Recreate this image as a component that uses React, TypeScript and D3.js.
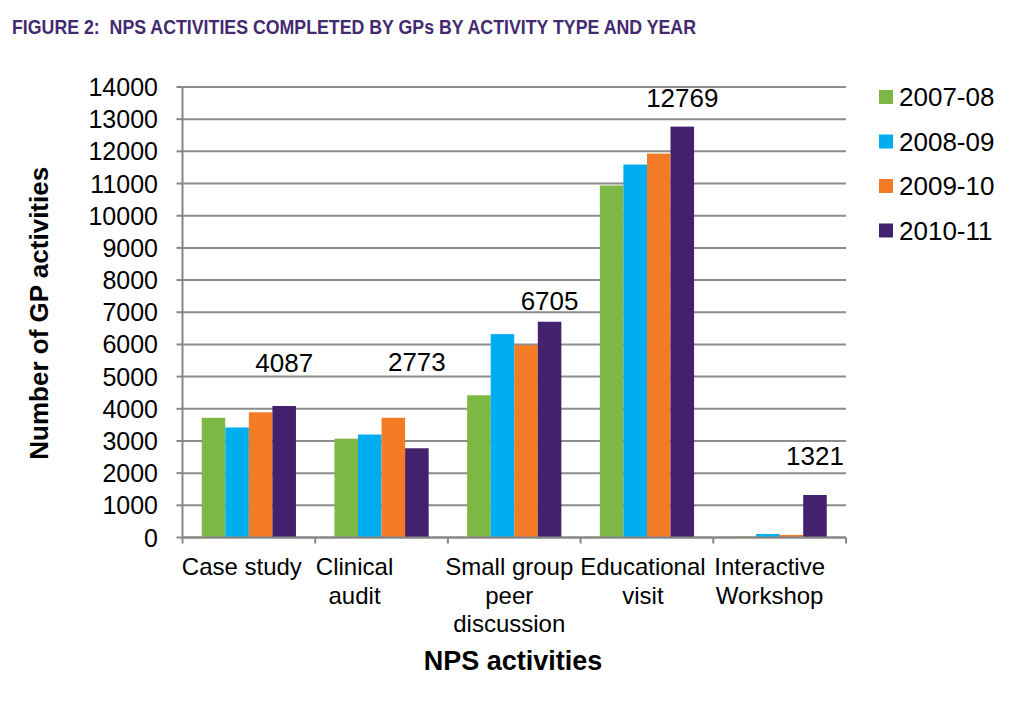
import React from "react";
import * as d3 from "d3";

const categoryLines: string[][] = [
  ["Case study"],
  ["Clinical", "audit"],
  ["Small group", "peer", "discussion"],
  ["Educational", "visit"],
  ["Interactive", "Workshop"],
];
const categories = categoryLines.map((l) => l.join(" "));
const years = ["2007-08", "2008-09", "2009-10", "2010-11"];
const v2007 = [3720, 3070, 4420, 10940, 30];
const v2008 = [3420, 3200, 6320, 11590, 110];
const v2009 = [3890, 3720, 5980, 11930, 80];
const v2010 = [4087, 2773, 6705, 12769, 1321];
const yTicks = [0, 1000, 2000, 3000, 4000, 5000, 6000, 7000, 8000, 9000, 10000, 11000, 12000, 13000, 14000];
const colors = ["#7CB843", "#00AEEF", "#F37B26", "#44216C"];

// label placement tweaks (px)
const labelLift = [34, 77, 12, 20, 30];
const catShift = [-7, -27, -5, -4, -10];

const FONT = "'Liberation Sans', Arial, sans-serif";

export default function App() {
  const W = 1023, H = 710;
  const left = 182.5, right = 846, top = 87, bottom = 537.5;
  const series = [v2007, v2008, v2009, v2010];

  const x = d3.scaleBand<string>().domain(categories).range([left, right]).padding(0);
  const bw = x.bandwidth();
  const inner = d3
    .scaleBand<string>()
    .domain(years)
    .range([bw * 0.145, bw * 0.855])
    .padding(0);
  const y = d3.scaleLinear().domain([0, 14000]).range([bottom, top]);

  return (
    <svg
      width={W}
      height={H}
      style={{ position: "absolute", left: 0, top: 0, background: "#fff" }}
      fontFamily={FONT}
    >
      <rect x={0} y={0} width={W} height={H} fill="#fff" />
      <text
        x={12}
        y={34}
        fontFamily="'Liberation Sans Narrow', 'Liberation Sans', Arial, sans-serif"
        fontWeight="bold"
        fontSize={19.5}
        fill="#43296F"
        textLength={684}
        lengthAdjust="spacingAndGlyphs"
      >
        {"FIGURE 2:\u00A0 NPS ACTIVITIES COMPLETED BY GPs BY ACTIVITY TYPE AND YEAR"}
      </text>

      {/* gridlines */}
      {yTicks.map((t) => (
        <line key={"g" + t} x1={left} x2={right} y1={y(t)} y2={y(t)} stroke="#8C8C8C" strokeWidth={2} />
      ))}

      {/* bars */}
      {series.map((vals, si) =>
        categories.map((c, ci) => (
          <rect
            key={si + "-" + ci}
            x={(x(c) as number) + (inner(years[si]) as number)}
            y={y(vals[ci])}
            width={inner.bandwidth()}
            height={bottom - y(vals[ci])}
            fill={colors[si]}
          />
        ))
      )}

      {/* axes */}
      <line x1={left} x2={left} y1={top} y2={bottom} stroke="#868686" strokeWidth={2} />
      <line x1={left} x2={right} y1={bottom} y2={bottom} stroke="#868686" strokeWidth={2} />
      {yTicks.map((t) => (
        <g key={"yt" + t}>
          <line x1={left - 6} x2={left} y1={y(t)} y2={y(t)} stroke="#868686" strokeWidth={2} />
          <text x={158} y={y(t)} dy="0.36em" textAnchor="end" fontSize={25} fill="#000">
            {t}
          </text>
        </g>
      ))}
      {categories.map((c, i) => (
        <line key={"xt" + i} x1={x(c) as number} x2={x(c) as number} y1={bottom} y2={bottom + 6} stroke="#868686" strokeWidth={2} />
      ))}
      <line x1={right} x2={right} y1={bottom} y2={bottom + 6} stroke="#868686" strokeWidth={2} />

      {/* category labels */}
      {categoryLines.map((lines, i) => (
        <text
          key={"cl" + i}
          x={(x(categories[i]) as number) + bw / 2 + catShift[i]}
          y={575}
          textAnchor="middle"
          fontSize={24}
          fill="#000"
        >
          {lines.map((l, j) => (
            <tspan key={j} x={(x(categories[i]) as number) + bw / 2 + catShift[i]} dy={j === 0 ? 0 : 28.5}>
              {l}
            </tspan>
          ))}
        </text>
      ))}

      {/* data labels for 2010-11 */}
      {categories.map((c, i) => (
        <text
          key={"dl" + i}
          x={(x(c) as number) + (inner(years[3]) as number) + inner.bandwidth() / 2}
          y={y(v2010[i]) - labelLift[i]}
          textAnchor="middle"
          fontSize={26}
          fill="#000"
        >
          {v2010[i]}
        </text>
      ))}

      {/* axis titles */}
      <text
        transform={`translate(48, ${(top + bottom) / 2 + 1}) rotate(-90)`}
        textAnchor="middle"
        fontWeight="bold"
        fontSize={26}
        fill="#000"
      >
        Number of GP activities
      </text>
      <text x={513} y={670} textAnchor="middle" fontWeight="bold" fontSize={27} fill="#000">
        NPS activities
      </text>

      {/* legend */}
      {years.map((yr, i) => (
        <g key={"lg" + i} transform={`translate(879, ${97 + i * 44.5})`}>
          <rect x={0} y={-7} width={14} height={14} fill={colors[i]} />
          <text x={20} y={9} fontSize={26} fill="#000">
            {yr}
          </text>
        </g>
      ))}
    </svg>
  );
}
